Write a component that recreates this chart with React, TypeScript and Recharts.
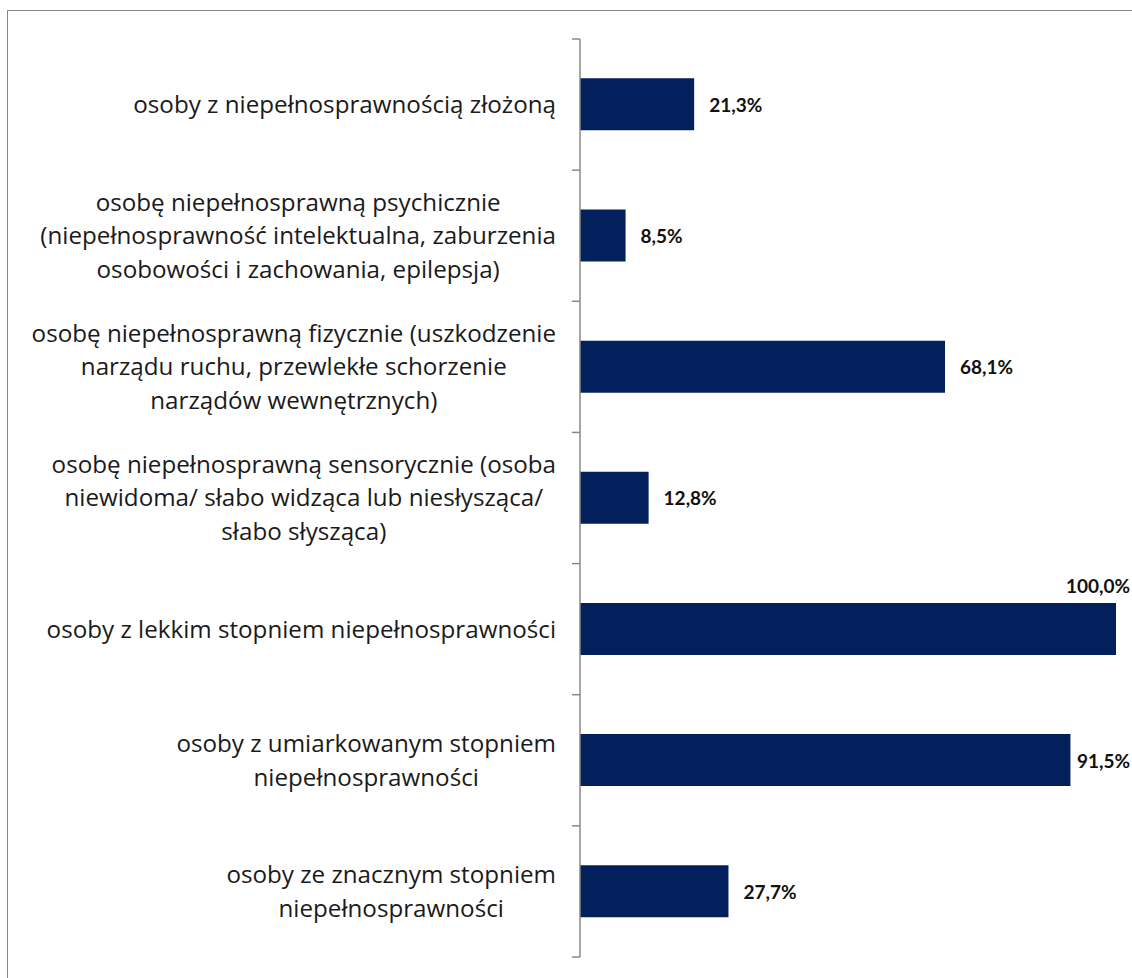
import { Bar, BarChart, LabelList, XAxis, YAxis } from "recharts";

const categories = [
  "osoby z niepełnosprawnością złożoną",
  "osobę niepełnosprawną psychicznie\n(niepełnosprawność intelektualna, zaburzenia\nosobowości i zachowania, epilepsja)",
  "osobę niepełnosprawną fizycznie (uszkodzenie\nnarządu ruchu, przewlekłe schorzenie\nnarządów wewnętrznych)",
  "osobę niepełnosprawną sensorycznie (osoba\nniewidoma/ słabo widząca lub niesłysząca/\nsłabo słysząca)",
  "osoby z lekkim stopniem niepełnosprawności",
  "osoby z umiarkowanym stopniem\nniepełnosprawności",
  "osoby ze znacznym stopniem\nniepełnosprawności",
];
const shares = [21.3, 8.5, 68.1, 12.8, 100.0, 91.5, 27.7];

const data = categories.map((name, i) => ({ name, value: shares[i] }));

const W = 1132;
const H = 978;
const TOP = 39;
const BOTTOM = 21;
const AXIS_X = 580;
const BAND = (H - TOP - BOTTOM) / categories.length;
const CAT_FONT = "'Open Sans', Lato, sans-serif";
const VAL_FONT = "Lato, 'Open Sans', sans-serif";
const CAT_SIZE = 24.2;
const VAL_SIZE = 19;
const LINE_H = 33.5;
const BAR_COLOR = "#03205c";
const GREY = "#888888";

let ctx: CanvasRenderingContext2D | null = null;
function measure(s: string, font: string) {
  if (!ctx) ctx = document.createElement("canvas").getContext("2d");
  if (!ctx) return s.length * 11;
  ctx.font = font;
  return ctx.measureText(s).width;
}

const fmt = (v: number) => `${v.toFixed(1).replace(".", ",")}%`;
const maxShare = Math.max(...shares);

function CategoryTick(props: any) {
  const { y, payload, index } = props;
  const lines = String(payload.value).split("\n");
  const maxW = Math.max(...lines.map((l) => measure(l, `${CAT_SIZE}px ${CAT_FONT}`)));
  const cx = AXIS_X - 24 - maxW / 2;
  const y0 = y - ((lines.length - 1) * LINE_H) / 2;
  return (
    <g>
      <text textAnchor="middle" fontFamily={CAT_FONT} fontSize={CAT_SIZE} fill="#1a1a1a">
        {lines.map((l, i) => (
          <tspan key={i} x={cx} y={y0 + i * LINE_H} dy="0.35em">
            {l}
          </tspan>
        ))}
      </text>
      <line x1={AXIS_X - 8} x2={AXIS_X} y1={y - BAND / 2} y2={y - BAND / 2} stroke={GREY} strokeWidth={1.5} />
      {index === categories.length - 1 && (
        <line x1={AXIS_X - 8} x2={AXIS_X} y1={y + BAND / 2} y2={y + BAND / 2} stroke={GREY} strokeWidth={1.5} />
      )}
    </g>
  );
}

function ValueLabel(props: any) {
  const { x, y, width, height, value } = props;
  const v = Number(value);
  const text = fmt(v);
  const common = {
    fontFamily: VAL_FONT,
    fontSize: VAL_SIZE,
    fontWeight: 700,
    fill: "#111",
  };
  if (v >= maxShare) {
    return (
      <text x={W - 2} y={y - 17} textAnchor="end" dominantBaseline="central" {...common}>
        {text}
      </text>
    );
  }
  const tw = measure(text, `700 ${VAL_SIZE}px ${VAL_FONT}`);
  const lx = Math.min(x + width + 15, W - 2 - tw);
  return (
    <text x={lx} y={y + height / 2} dominantBaseline="central" {...common}>
      {text}
    </text>
  );
}

export default function App() {
  return (
    <div style={{ position: "absolute", left: 0, top: 0, width: W, height: H, overflow: "hidden", background: "#fff" }}>
      <div
        style={{
          position: "absolute",
          left: 7,
          top: 10,
          width: W + 50,
          height: H + 50,
          border: `1.5px solid ${GREY}`,
          boxSizing: "border-box",
        }}
      />
      <div style={{ position: "absolute", left: 0, top: 0 }}>
        <BarChart
          width={W}
          height={H}
          data={data}
          layout="vertical"
          barCategoryGap="30%"
          margin={{ top: TOP, right: 16, bottom: BOTTOM, left: 0 }}
        >
          <XAxis type="number" domain={[0, 100]} hide />
          <YAxis
            type="category"
            dataKey="name"
            width={AXIS_X}
            axisLine={{ stroke: GREY, strokeWidth: 1.5 }}
            tickLine={false}
            tick={<CategoryTick />}
            interval={0}
          />
          <Bar dataKey="value" fill={BAR_COLOR} isAnimationActive={false}>
            <LabelList dataKey="value" content={<ValueLabel />} />
          </Bar>
        </BarChart>
      </div>
    </div>
  );
}
